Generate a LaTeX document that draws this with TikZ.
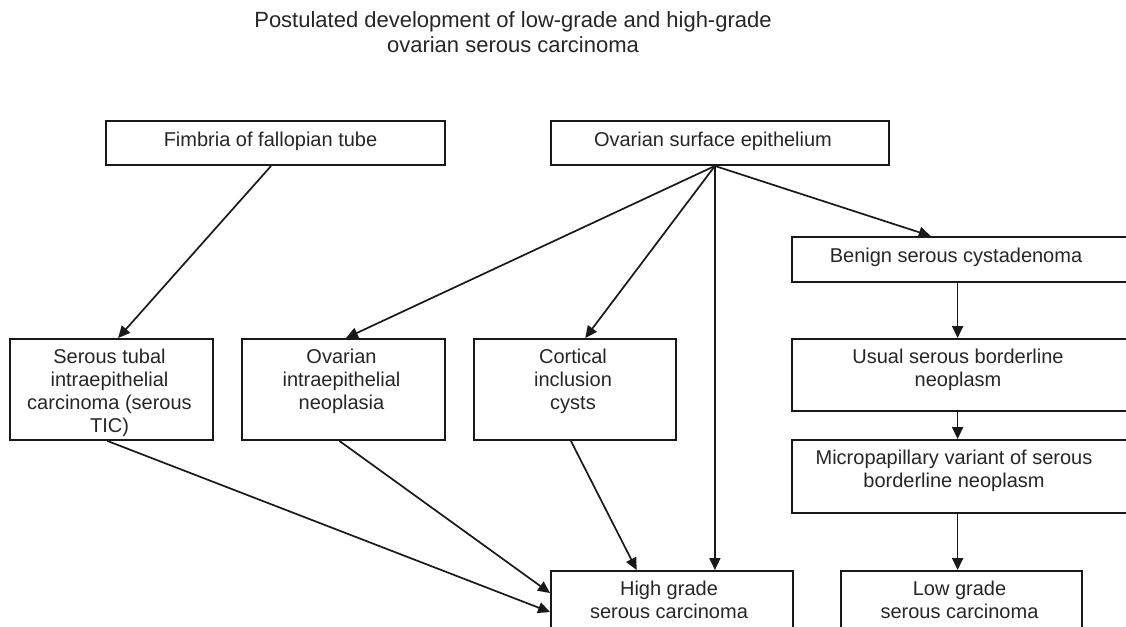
\documentclass[tikz,border=0pt]{standalone}
\usepackage{fontspec}
\setmainfont{Liberation Sans}
\usetikzlibrary{arrows.meta,calc}
\begin{document}
\begin{tikzpicture}[x=1pt,y=-1pt,
  box/.style={draw=black!90, line width=1.9pt, inner sep=0pt, rectangle},
  lbl/.style={anchor=north, inner sep=0pt, align=center, font=\fontsize{20}{23}\selectfont, text=black!85},
  arr/.style={draw=black!90, line width=1.7pt, -{Triangle[length=12pt,width=11pt]}}
]
\useasboundingbox (0,0) rectangle (1126,626);
\clip (0,0) rectangle (1126,626);
\fill[white] (0,0) rectangle (1126,626);

% title
\node[lbl, anchor=center, font=\fontsize{22}{25}\selectfont] (title) at (513,32) {Postulated development of low-grade and high-grade\\ovarian serous carcinoma};

% boxes
\node[box, minimum width=339pt, minimum height=44pt] (fimb) at (275.5,143) {};
\node[box, minimum width=338pt, minimum height=44pt] (ose) at (720,143) {};
\node[box, minimum width=338pt, minimum height=45pt] (ben) at (961,259.5) {};
\node[box, minimum width=203pt, minimum height=101pt] (stic) at (111.5,389.5) {};
\node[box, minimum width=203pt, minimum height=101pt] (oin) at (343.5,389.5) {};
\node[box, minimum width=202pt, minimum height=101pt] (cic) at (575,389.5) {};
\node[box, minimum width=338pt, minimum height=72pt] (usual) at (961,375) {};
\node[box, minimum width=338pt, minimum height=73pt] (micro) at (961,476.5) {};
\node[box, minimum width=242pt, minimum height=80pt] (high) at (672,611) {};
\node[box, minimum width=241pt, minimum height=80pt] (low) at (961.5,611) {};

% labels
\node[lbl, anchor=center] at ($(fimb.center)+(-5,-2)$) {Fimbria of fallopian tube};
\node[lbl, anchor=center] at ($(ose.center)+(-7,-2)$) {Ovarian surface epithelium};
\node[lbl, anchor=center] at ($(ben.center)+(-5,-2)$) {Benign serous cystadenoma};
\node[lbl] at ($(stic.north)+(-2,11)$) {Serous tubal\\intraepithelial\\carcinoma (serous\\TIC)};
\node[lbl] at ($(oin.north)+(-2,11)$) {Ovarian\\intraepithelial\\neoplasia};
\node[lbl] at ($(cic.north)+(-2,11)$) {Cortical\\inclusion\\cysts};
\node[lbl] at ($(usual.north)+(-3,11)$) {Usual serous borderline\\neoplasm};
\node[lbl] at ($(micro.north)+(-7,11)$) {Micropapillary variant of serous\\borderline neoplasm};
\node[lbl] at ($(high.north)+(-3,11)$) {High grade\\serous carcinoma};
\node[lbl] at ($(low.north)+(-2,11)$) {Low grade\\serous carcinoma};

% connection points
\coordinate (apex) at ($(ose.south west)!0.485!(ose.south east)$);
\coordinate (fimbout) at ($(fimb.south west)!0.487!(fimb.south east)$);

% arrows
\draw[arr] (fimbout) -- ($(stic.north west)!0.532!(stic.north east)$);
\draw[arr] (apex) -- ($(oin.north west)!0.512!(oin.north east)$);
\draw[arr] (apex) -- ($(cic.north west)!0.55!(cic.north east)$);
\draw[arr] (apex) -- (apex |- high.north);
\draw[arr] (apex) -- ($(ben.north west)!0.411!(ben.north east)$);
\draw[arr] ($(ben.south west)!0.49!(ben.south east)$) coordinate (bb) -- (bb |- usual.north);
\draw[arr] ($(usual.south west)!0.49!(usual.south east)$) coordinate (ub) -- (ub |- micro.north);
\draw[arr] ($(micro.south west)!0.49!(micro.south east)$) coordinate (mb) -- (mb |- low.north);
\draw[arr] ($(stic.south west)!0.48!(stic.south east)$) -- ($(high.north west)+(0,42)$);
\draw[arr] ($(oin.south west)!0.48!(oin.south east)$) -- ($(high.north west)+(0,23)$);
\draw[arr] ($(cic.south west)!0.48!(cic.south east)$) -- ($(high.north west)!0.355!(high.north east)$);
\end{tikzpicture}
\end{document}
